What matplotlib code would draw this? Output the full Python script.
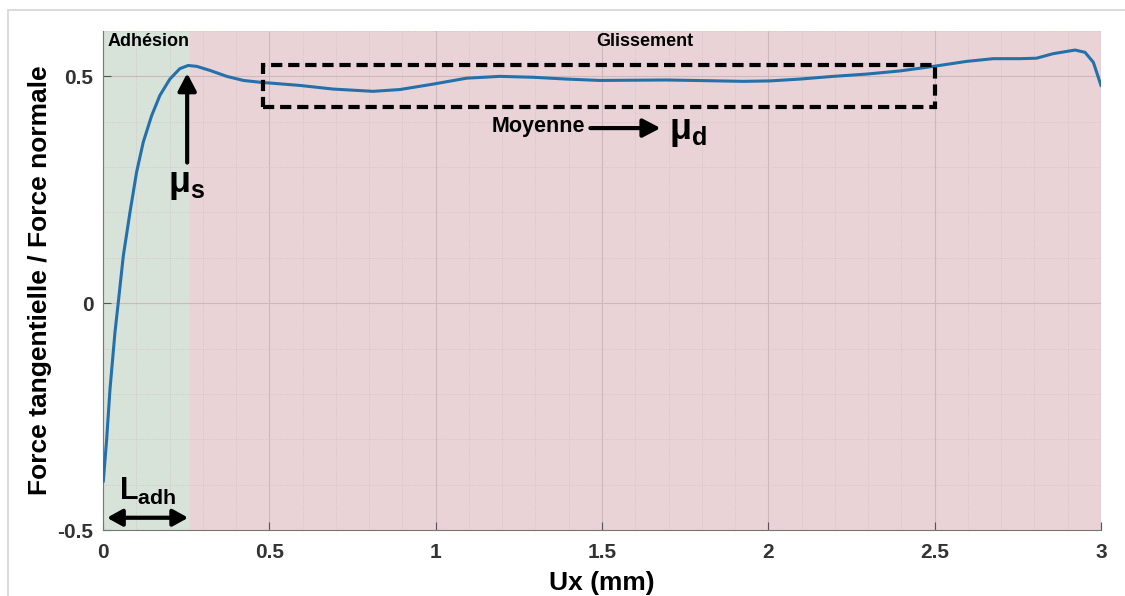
import matplotlib.pyplot as plt
from matplotlib.patches import Rectangle
import numpy as np

plt.rcParams['font.family'] = ['Liberation Sans', 'DejaVu Sans']
plt.rcParams['mathtext.fontset'] = 'custom'
plt.rcParams['mathtext.rm'] = 'Liberation Sans'
plt.rcParams['mathtext.bf'] = 'Liberation Sans:bold'

# courbe (Ux en mm, rapport Ft/Fn)
ux = [0.001, 0.011, 0.021, 0.036, 0.046, 0.061, 0.081, 0.101, 0.121, 0.146, 0.171, 0.201,
      0.231, 0.256, 0.282, 0.322, 0.372, 0.422, 0.472, 0.592, 0.692, 0.812, 0.893, 0.993,
      1.093, 1.193, 1.293, 1.394, 1.494, 1.694, 1.774, 1.925, 2.005, 2.095, 2.195, 2.295,
      2.396, 2.496, 2.596, 2.676, 2.756, 2.806, 2.856, 2.922, 2.952, 2.977, 3.0]
ratio = [-0.392, -0.300, -0.190, -0.064, 0.002, 0.104, 0.200, 0.289, 0.355, 0.413, 0.458, 0.494,
         0.517, 0.524, 0.522, 0.513, 0.500, 0.491, 0.487, 0.480, 0.472, 0.467, 0.471, 0.483,
         0.496, 0.500, 0.498, 0.494, 0.491, 0.492, 0.491, 0.489, 0.490, 0.494, 0.500, 0.505,
         0.512, 0.522, 0.533, 0.539, 0.539, 0.540, 0.550, 0.558, 0.553, 0.531, 0.480]

l_adh = 0.262
xticks = [0, 0.5, 1, 1.5, 2, 2.5, 3]
xticklabels = ["0", "0.5", "1", "1.5", "2", "2.5", "3"]
yticks = [-0.5, 0, 0.5]
yticklabels = ["-0.5", "0", "0.5"]

fig = plt.figure(figsize=(11.25, 5.96), dpi=100)
# cadre gris autour de la figure
fig.patches.append(Rectangle((8 / 1125, -0.1), 1.2, 1 - 10 / 596 + 0.1, transform=fig.transFigure,
                             fill=False, edgecolor="#d4d4d4", linewidth=1.2))
ax = fig.add_axes([103 / 1125, 1 - 530 / 596, 998 / 1125, 499 / 596])

ax.axvspan(0, l_adh, color="#d7e2d8", zorder=0)
ax.axvspan(l_adh, 3, color="#e9d3d6", zorder=0)

ax.plot(ux, ratio, color="#2470aa", linewidth=2.2, zorder=3)

ax.set_xlim(0, 3)
ax.set_ylim(-0.5, 0.6)
ax.set_xticks(xticks)
ax.set_xticklabels(xticklabels)
ax.set_yticks(yticks)
ax.set_yticklabels(yticklabels)
ax.set_xticks(np.arange(0, 3.01, 0.1), minor=True)
ax.set_yticks(np.arange(-0.5, 0.61, 0.1), minor=True)
ax.tick_params(which="minor", length=0)
ax.tick_params(which="major", direction="in", length=6, color="#555555",
               labelsize=15, labelcolor="#333333")
ax.tick_params(axis="x", pad=9)
ax.tick_params(axis="y", pad=7)
for lab in ax.get_xticklabels() + ax.get_yticklabels():
    lab.set_fontweight("bold")
ax.grid(which="major", color="#cdb8bc", linewidth=0.8, zorder=1)
ax.grid(which="minor", color="#d3c0c4", linewidth=0.6, linestyle=":", zorder=1)
ax.set_axisbelow(True)
for s in ["top", "right"]:
    ax.spines[s].set_visible(False)
for s in ["left", "bottom"]:
    ax.spines[s].set_color("#777777")

ax.set_xlabel("Ux (mm)", fontsize=19, fontweight="bold", labelpad=7)
ax.set_ylabel("Force tangentielle / Force normale", fontsize=19, fontweight="bold", labelpad=4)

# annotations
ax.text(0.013, 0.577, "Adhésion", fontsize=13, fontweight="bold", va="center", ha="left")
ax.text(1.63, 0.577, "Glissement", fontsize=13, fontweight="bold", va="center", ha="center")

head = "-|>,head_width=0.55,head_length=1.05"
ax.annotate("", xy=(0.253, 0.507), xytext=(0.253, 0.31),
            arrowprops=dict(arrowstyle=head, color="black", lw=3, shrinkA=0, shrinkB=0))
ax.text(0.25, 0.262, r"$\mathbf{\mu_s}$", fontsize=26, ha="center", va="center")

ax.add_patch(Rectangle((0.48, 0.433), 2.02, 0.092, fill=False, edgecolor="black",
                       linestyle=(0, (2.7, 1.4)), linewidth=3, zorder=4))

ax.text(1.31, 0.389, "Moyenne", fontsize=15.5, fontweight="bold", ha="center", va="center")
ax.annotate("", xy=(1.676, 0.386), xytext=(1.465, 0.386),
            arrowprops=dict(arrowstyle=head, color="black", lw=3, shrinkA=0, shrinkB=0))
ax.text(1.70, 0.378, r"$\mathbf{\mu_d}$", fontsize=26, ha="left", va="center")

ax.text(0.135, -0.415, r"$\mathbf{L_{adh}}$", fontsize=22, ha="center", va="center")
ax.annotate("", xy=(0.012, -0.473), xytext=(0.256, -0.473),
            arrowprops=dict(arrowstyle="<|-|>,head_width=0.5,head_length=0.9", color="black", lw=3,
                            shrinkA=0, shrinkB=0))

fig.savefig("out.png", dpi=100)
